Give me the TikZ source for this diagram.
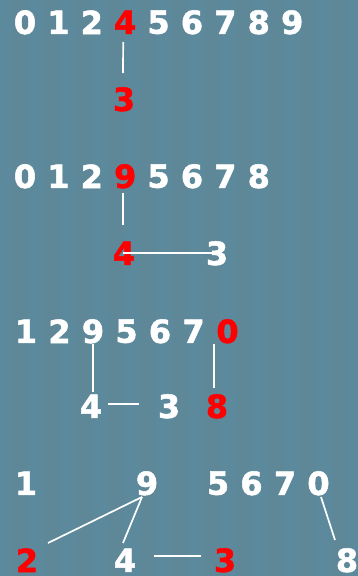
\documentclass[tikz,border=0pt]{standalone}
\usepackage{fontspec}
\setmainfont{DejaVu Sans}
\newfontfamily\digitfont{DejaVu Sans Bold}[FakeBold=1.6]
\usetikzlibrary{calc}
\definecolor{bgA}{HTML}{5C8A9C}
\definecolor{bgB}{HTML}{5E8798}
\begin{document}
\begin{tikzpicture}[x=1pt,y=-1pt,
  dg/.style={inner sep=0pt,text=white,font=\digitfont\fontsize{32}{38}\selectfont},
  rd/.style={dg,text=red},
  link/.style={draw=white,line width=1.7pt}]
\useasboundingbox (0,0) rectangle (358,576);
\fill[bgA] (0,0) rectangle (358,576);
\foreach \i in {0,...,11} {\fill[bgB] (\i*32+13,0) rectangle (\i*32+28,576);}
% Row 1
\node[dg] (a0) at (25,22.3) {0};
\node[dg] (a1) at (58.4,22.3) {1};
\node[dg] (a2) at (91.8,22.3) {2};
\node[rd] (a4) at (125.2,22.3) {4};
\node[dg] (a5) at (158.6,22.3) {5};
\node[dg] (a6) at (192,22.3) {6};
\node[dg] (a7) at (225.4,22.3) {7};
\node[dg] (a8) at (258.8,22.3) {8};
\node[dg] (a9) at (292.2,22.3) {9};
\node[rd] (a3) at (124,99.3) {3};
\draw[link] ($(a4)+(-2,19.7)$) -- ($(a3)+(-1,-26.3)$);
% Row 2
\node[dg] (b0) at (25,176.3) {0};
\node[dg] (b1) at (58.4,176.3) {1};
\node[dg] (b2) at (91.8,176.3) {2};
\node[rd] (b9) at (125.2,176.3) {9};
\node[dg] (b5) at (158.6,176.3) {5};
\node[dg] (b6) at (192,176.3) {6};
\node[dg] (b7) at (225.4,176.3) {7};
\node[dg] (b8) at (258.8,176.3) {8};
\node[rd] (b4) at (124,253.3) {4};
\node[dg] (b3) at (217,253.3) {3};
\draw[link] ($(b9)+(-2.2,16.7)$) -- ($(b4)+(-1,-28.3)$);
\draw[link] ($(b4)+(-1,-0.3)$) -- ($(b3)+(1,-0.3)$);
% Row 3
\node[dg] (c1) at (26,331.3) {1};
\node[dg] (c2) at (59.5,331.3) {2};
\node[dg] (c9) at (93,331.3) {9};
\node[dg] (c5) at (126.5,331.3) {5};
\node[dg] (c6) at (160,331.3) {6};
\node[dg] (c7) at (193.5,331.3) {7};
\node[rd] (c0) at (227.5,331.3) {0};
\node[dg] (c4) at (91,406.3) {4};
\node[dg] (c3) at (169,406.3) {3};
\node[rd] (c8) at (217,406.3) {8};
\draw[link] ($(c9)+(0,12.7)$) -- ($(c4)+(2,-14.3)$);
\draw[link] ($(c0)+(-13.5,12.7)$) -- ($(c8)+(-3,-18.3)$);
\draw[link] ($(c4)+(17,-2.3)$) -- ($(c3)+(-30,-2.3)$);
% Row 4
\node[dg] (d1) at (26,483.3) {1};
\node[dg] (d9) at (147,483.3) {9};
\node[dg] (d5) at (218,483.3) {5};
\node[dg] (d6) at (251.5,483.3) {6};
\node[dg] (d7) at (285,483.3) {7};
\node[dg] (d0) at (318.5,483.3) {0};
\node[rd] (d2) at (27,560.3) {2};
\node[dg] (d4) at (125,560.3) {4};
\node[rd] (d3) at (225,560.3) {3};
\node[dg] (d8) at (347,560.3) {8};
\draw[link] ($(d9)+(-5,13.7)$) -- ($(d2)+(21,-17.3)$);
\draw[link] ($(d9)+(-5,13.7)$) -- ($(d4)+(-2,-17.3)$);
\draw[link] ($(d0)+(2.5,13.7)$) -- ($(d8)+(-12,-20.3)$);
\draw[link] ($(d4)+(29,-4.3)$) -- ($(d3)+(-24,-4.3)$);
\end{tikzpicture}
\end{document}
